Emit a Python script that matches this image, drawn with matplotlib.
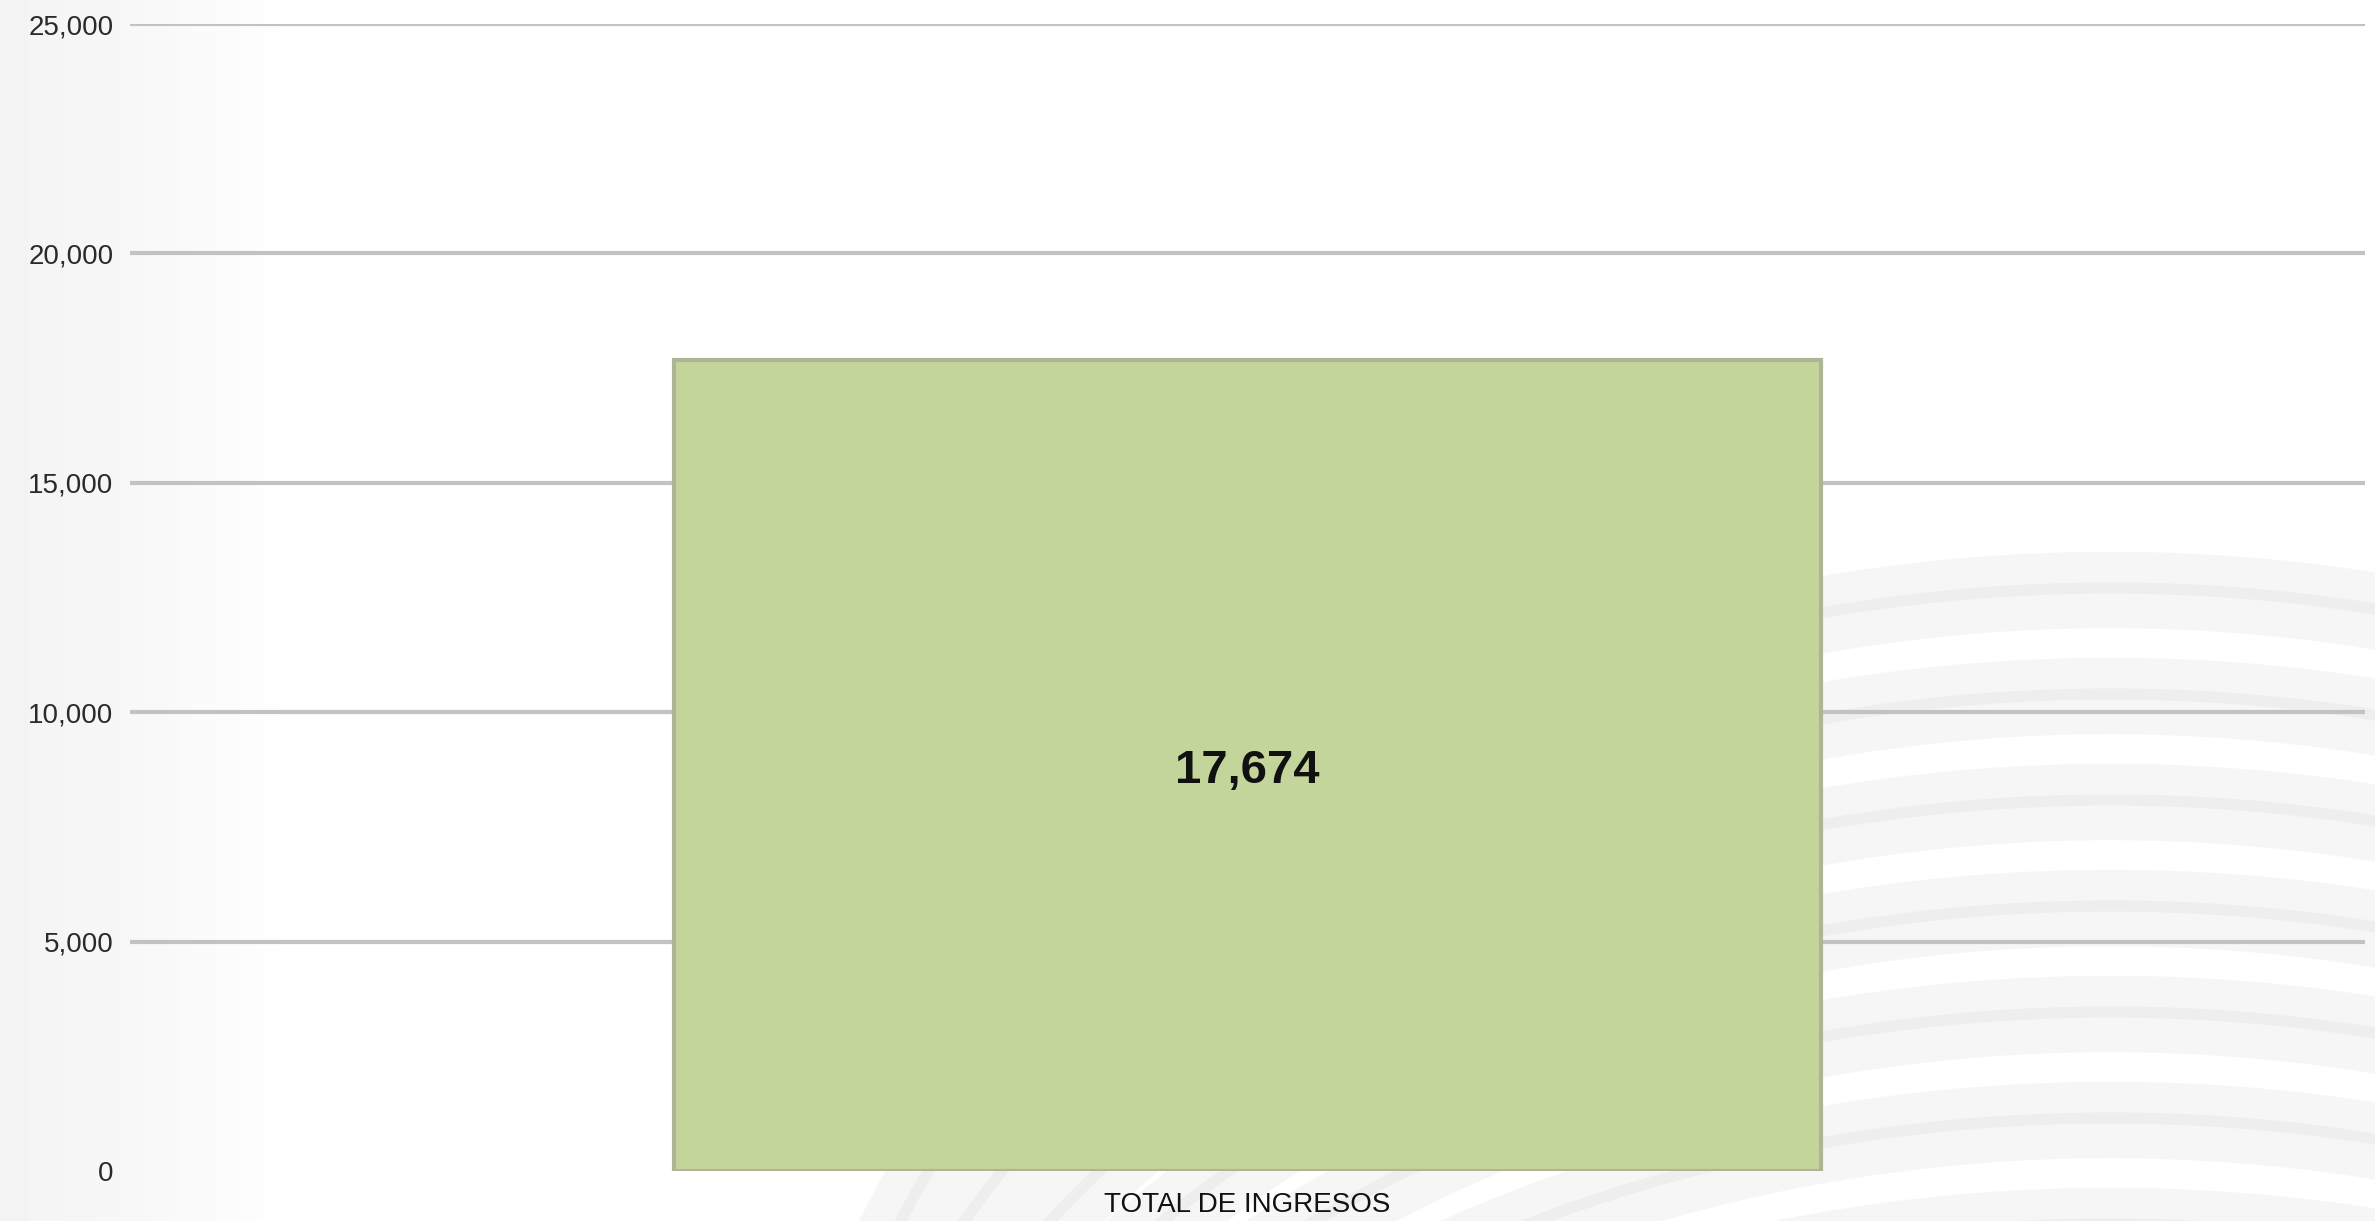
import matplotlib.pyplot as plt
import matplotlib.patches as mpatches
import numpy as np

# chart data
categories = ['TOTAL DE INGRESOS']
values = [17674]
y_ticks = [0, 5000, 10000, 15000, 20000, 25000]

plt.rcParams['font.family'] = ['Liberation Sans', 'DejaVu Sans']

W, H = 2375, 1221
fig = plt.figure(figsize=(W / 100, H / 100), dpi=100, facecolor='white')

# decorative background (faded photo on the left, soft arcs bottom right)
bg = fig.add_axes([0, 0, 1, 1], zorder=0)
bg.set_xlim(0, W)
bg.set_ylim(H, 0)
bg.axis('off')
fade = np.linspace(0, 1, 300) ** 1.3
bg.imshow(np.tile(0.955 + 0.045 * fade, (10, 1)), cmap='gray', vmin=0, vmax=1,
          extent=[0, 300, H, 0], aspect='auto', zorder=0)

# wave bands: translated copies of one wide ellipse
a, b = 1300, 1000
for k in range(8):
    mid = 590 + 106 * k
    bg.add_patch(mpatches.Ellipse((2110, mid + b), 2 * a, 2 * b, fill=False,
                                  edgecolor='#f6f6f6', linewidth=55, zorder=1))
    bg.add_patch(mpatches.Ellipse((2110, mid - 2 + b), 2 * a, 2 * b, fill=False,
                                  edgecolor='#eeeeee', linewidth=8, zorder=1))

# main chart
ax = fig.add_axes([130 / W, 50 / H, 2235 / W, 1147 / H], zorder=2)
ax.set_facecolor('none')

for t in y_ticks[1:]:
    ax.axhline(t, color='#c2c2c2', linewidth=3, zorder=1)

x = np.arange(len(categories))
bars = ax.bar(x, values, width=0.513, color='#c4d59b', edgecolor='#adb596',
              linewidth=3, zorder=3)

for bar, v in zip(bars, values):
    ax.text(bar.get_x() + bar.get_width() / 2, v / 2, f'{v:,}', ha='center',
            va='center_baseline', fontsize=34, fontweight='bold',
            color='#111111', zorder=4)

ax.set_xlim(-0.5, 0.5)
ax.set_ylim(0, 25000)
ax.set_yticks(y_ticks)
ax.set_yticklabels([f'{t:,}' for t in y_ticks])
ax.set_xticks(x)
ax.set_xticklabels(categories)
ax.tick_params(axis='y', length=0, pad=12, labelsize=20, labelcolor='#2a2a2a')
ax.tick_params(axis='x', length=0, pad=15, labelsize=20, labelcolor='#111111')
for s in ax.spines.values():
    s.set_visible(False)

fig.savefig('out.png', dpi=100, facecolor='white')
